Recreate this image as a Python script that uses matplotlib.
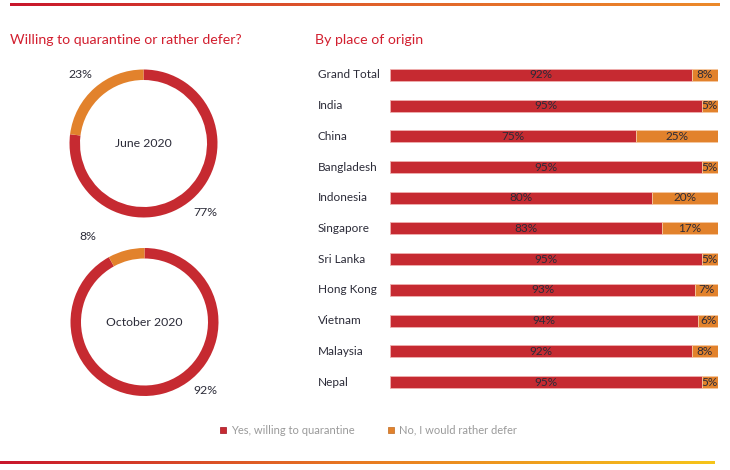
import numpy as np
import matplotlib
matplotlib.use("Agg")
import matplotlib.pyplot as plt
from matplotlib.colors import LinearSegmentedColormap

plt.rcParams['font.family'] = ['Lato', 'DejaVu Sans']

# data
periods = ['June 2020', 'October 2020']
willing_by_period = [77, 92]
defer_by_period = [23, 8]

places = ['Grand Total', 'India', 'China', 'Bangladesh', 'Indonesia', 'Singapore',
          'Sri Lanka', 'Hong Kong', 'Vietnam', 'Malaysia', 'Nepal']
willing = [92, 95, 75, 95, 80, 83, 95, 93, 94, 92, 95]
defer = [8, 5, 25, 5, 20, 17, 5, 7, 6, 8, 5]

legend_labels = ['Yes, willing to quarantine', 'No, I would rather defer']

RED = '#c62a31'
ORANGE = '#e2822c'
TITLE_RED = '#d21f2f'
TEXT = '#2b2b38'

W, H = 730, 470
fig = plt.figure(figsize=(W / 100, H / 100), dpi=100)

# overlay axes in pixel coordinates for lines, titles and legend
ov = fig.add_axes([0, 0, 1, 1])
ov.set_xlim(0, W)
ov.set_ylim(H, 0)
ov.axis('off')

grad = np.linspace(0, 1, 256).reshape(1, -1)
top_cmap = LinearSegmentedColormap.from_list('top', ['#c8162c', '#e0602a', '#ec8a2a'])
bot_cmap = LinearSegmentedColormap.from_list('bot', ['#c8162c', '#e87a22', '#f6c51a'])
ov.imshow(grad, cmap=top_cmap, extent=[10, 720, 6.5, 3.5], aspect='auto', zorder=1)
ov.imshow(grad, cmap=bot_cmap, extent=[0, 715, 464, 461], aspect='auto', zorder=1)

ov.text(10, 40, 'Willing to quarantine or rather defer?', color=TITLE_RED,
        fontsize=10.2, va='center', ha='left')
ov.text(315, 40, 'By place of origin', color=TITLE_RED,
        fontsize=10.2, va='center', ha='left')

# legend
ov.scatter([223], [430], marker='s', s=22, color=RED, edgecolors='#a01020', linewidths=0.5)
ov.text(231, 430, legend_labels[0], color='#9a9a9a', fontsize=8, va='center')
ov.scatter([391], [430], marker='s', s=22, color=ORANGE, edgecolors='#c06a20', linewidths=0.5)
ov.text(399, 430, legend_labels[1], color='#9a9a9a', fontsize=8, va='center')

# donuts
donut_centers = [(143.5, 143.5), (144.5, 322)]
R = 74
label_pos = [((80, 75), (205, 212)), ((88, 237), (205, 390))]
for i, (cx, cy) in enumerate(donut_centers):
    ax = fig.add_axes([(cx - R) / W, (H - cy - R) / H, 2 * R / W, 2 * R / H])
    ax.pie([willing_by_period[i], defer_by_period[i]], colors=[RED, ORANGE],
           startangle=90, counterclock=False, radius=1,
           wedgeprops=dict(width=10.5 / R, linewidth=0))
    ax.set_xlim(-1, 1)
    ax.set_ylim(-1, 1)
    ax.set_aspect('equal')
    ax.axis('off')
    ax.text(0, 0, periods[i], ha='center', va='center', fontsize=8.8, color=TEXT)
    (dx, dy), (wx, wy) = label_pos[i]
    ov.text(dx, dy, f'{defer_by_period[i]}%', ha='center', va='center', fontsize=8.8, color=TEXT)
    ov.text(wx, wy, f'{willing_by_period[i]}%', ha='center', va='center', fontsize=8.8, color=TEXT)

# stacked bars
y_first, y_last = 75, 382
step = (y_last - y_first) / (len(places) - 1)
x0, x1 = 390, 718
top_px = y_first - step / 2
bot_px = y_last + step / 2
bax = fig.add_axes([x0 / W, (H - bot_px) / H, (x1 - x0) / W, (bot_px - top_px) / H])
ypos = np.arange(len(places))
bh = 12 / step
bax.barh(ypos, willing, height=bh, color=RED, edgecolor='#f0b0b0', linewidth=0.6)
bax.barh(ypos, defer, left=willing, height=bh, color=ORANGE, edgecolor='#f5c8a0', linewidth=0.6)
bax.set_xlim(0, 100)
bax.set_ylim(len(places) - 0.5, -0.5)
bax.axis('off')
for y, w, d in zip(ypos, willing, defer):
    bax.text(w / 2, y, f'{w}%', ha='center', va='center', fontsize=8.5, color=TEXT)
    bax.text(w + d / 2, y, f'{d}%', ha='center', va='center', fontsize=8.5, color=TEXT)

for y, name in zip(ypos, places):
    ov.text(318, y_first + y * step, name, ha='left', va='center', fontsize=8.5, color=TEXT)

fig.savefig('out.png', dpi=100, facecolor='white')
